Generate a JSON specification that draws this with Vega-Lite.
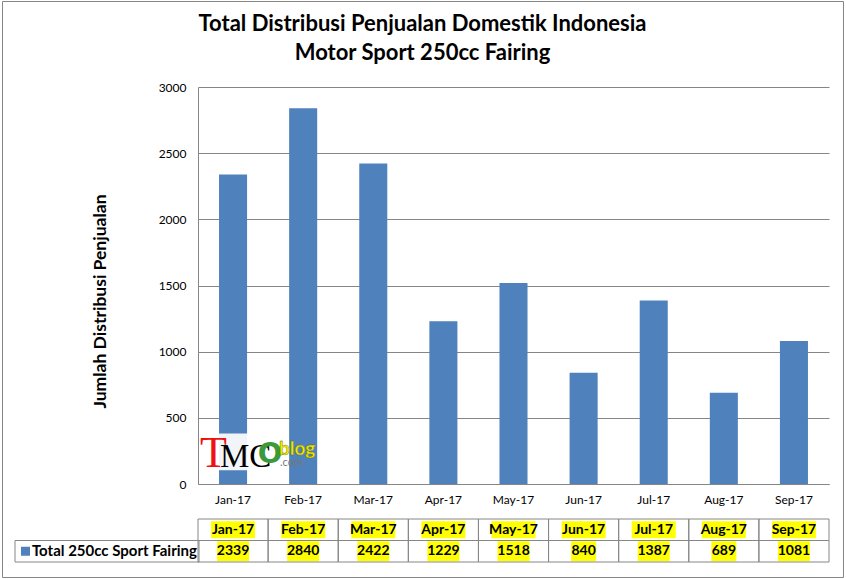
{
  "$schema": "https://vega.github.io/schema/vega-lite/v6.json",
  "autosize": {"type": "none"},
  "padding": {"left": 2, "top": 1, "right": 3, "bottom": 2},
  "width": 841,
  "height": 576,
  "background": "white",
  "config": {
    "font": "Lato",
    "view": {"stroke": "#868686", "strokeWidth": 1},
    "axis": {"labelFont": "Lato", "titleFont": "Lato", "labelColor": "black", "titleColor": "black"}
  },
  "title": {
    "text": ["Total Distribusi Penjualan Domestik Indonesia", "Motor Sport 250cc Fairing"],
    "font": "Lato", "fontSize": 22, "fontWeight": "bold", "color": "black",
    "lineHeight": 29, "anchor": "middle", "baseline": "alphabetic", "offset": -81
  },
  "datasets": {
    "sales": [
      {"month": "Jan-17", "value": 2339},
      {"month": "Feb-17", "value": 2840},
      {"month": "Mar-17", "value": 2422},
      {"month": "Apr-17", "value": 1229},
      {"month": "May-17", "value": 1518},
      {"month": "Jun-17", "value": 840},
      {"month": "Jul-17", "value": 1387},
      {"month": "Aug-17", "value": 689},
      {"month": "Sep-17", "value": 1081}
    ],
    "series": [{"series": "Total 250cc Sport Fairing"}],
    "logo": [{"part": "TMCblog"}]
  },
  "resolve": {"scale": {"x": "independent", "y": "independent"}},
  "layer": [
    {
      "data": {"name": "sales"},
      "mark": {"type": "bar", "color": "#4F81BD", "width": {"band": 0.4}},
      "encoding": {
        "x": {
          "field": "month", "type": "nominal",
          "scale": {"type": "band", "domain": ["Jan-17","Feb-17","Mar-17","Apr-17","May-17","Jun-17","Jul-17","Aug-17","Sep-17"], "range": [196, 827], "paddingInner": 0, "paddingOuter": 0},
          "axis": {"title": null, "offset": -93, "labelAngle": 0, "labelFontSize": 12, "labelPadding": 10, "ticks": false, "tickSize": 0, "domainColor": "#868686", "grid": false}
        },
        "y": {
          "field": "value", "type": "quantitative",
          "scale": {"domain": [0, 3000], "range": [483, 86], "nice": false},
          "axis": {
            "title": "Jumlah Distribusi Penjualan", "titleFontSize": 17.5, "titleFontWeight": "bold",
            "titleX": -98, "titleY": 300, "titleAlign": "center", "titleBaseline": "middle", "titleAngle": -90,
            "offset": -196, "values": [0, 500, 1000, 1500, 2000, 2500, 3000], "format": "d",
            "labelFontSize": 12, "labelPadding": 12, "ticks": false, "tickSize": 0,
            "domainColor": "#868686", "grid": true, "gridColor": "#868686", "gridOpacity": 1
          }
        }
      }
    },
    {
      "data": {"name": "logo"},
      "mark": {"type": "point", "shape": "square", "filled": true, "size": 1350, "color": "white", "opacity": 0.92},
      "encoding": {
        "x": {"datum": "Jan-17", "type": "nominal", "scale": {"type": "band", "domain": ["Jan-17","Feb-17","Mar-17","Apr-17","May-17","Jun-17","Jul-17","Aug-17","Sep-17"], "range": [196, 827], "paddingInner": 0, "paddingOuter": 0}, "axis": null},
        "y": {"datum": 242, "type": "quantitative", "scale": {"domain": [0, 3000], "range": [483, 86], "nice": false}, "axis": null}
      }
    },
    {
      "data": {"name": "logo"},
      "mark": {"type": "text", "text": "T", "font": "Liberation Serif", "fontSize": 44, "color": "#ee1111", "align": "left", "baseline": "alphabetic", "dx": 2, "dy": -17},
      "encoding": {
        "x": {"datum": "Jan-17", "type": "nominal", "bandPosition": 0, "scale": {"type": "band", "domain": ["Jan-17","Feb-17","Mar-17","Apr-17","May-17","Jun-17","Jul-17","Aug-17","Sep-17"], "range": [196, 827], "paddingInner": 0, "paddingOuter": 0}, "axis": null},
        "y": {"datum": 0, "type": "quantitative", "scale": {"domain": [0, 3000], "range": [483, 86], "nice": false}, "axis": null}
      }
    },
    {
      "data": {"name": "logo"},
      "mark": {"type": "text", "text": "MC", "font": "Liberation Serif", "fontSize": 33, "color": "black", "align": "left", "baseline": "alphabetic", "dx": 22, "dy": -17},
      "encoding": {
        "x": {"datum": "Jan-17", "type": "nominal", "bandPosition": 0, "scale": {"type": "band", "domain": ["Jan-17","Feb-17","Mar-17","Apr-17","May-17","Jun-17","Jul-17","Aug-17","Sep-17"], "range": [196, 827], "paddingInner": 0, "paddingOuter": 0}, "axis": null},
        "y": {"datum": 0, "type": "quantitative", "scale": {"domain": [0, 3000], "range": [483, 86], "nice": false}, "axis": null}
      }
    },
    {
      "data": {"name": "logo"},
      "mark": {"type": "text", "text": "O", "font": "DejaVu Sans", "fontWeight": "bold", "fontSize": 29, "color": "#3c9a3c", "align": "center", "baseline": "middle", "dx": 72, "dy": -30},
      "encoding": {
        "x": {"datum": "Jan-17", "type": "nominal", "bandPosition": 0, "scale": {"type": "band", "domain": ["Jan-17","Feb-17","Mar-17","Apr-17","May-17","Jun-17","Jul-17","Aug-17","Sep-17"], "range": [196, 827], "paddingInner": 0, "paddingOuter": 0}, "axis": null},
        "y": {"datum": 0, "type": "quantitative", "scale": {"domain": [0, 3000], "range": [483, 86], "nice": false}, "axis": null}
      }
    },
    {
      "data": {"name": "logo"},
      "mark": {"type": "text", "text": "blog", "font": "Lato", "fontSize": 19, "fontWeight": "bold", "color": "#f4ec00", "stroke": "#6b6b00", "strokeWidth": 0.4, "align": "left", "baseline": "alphabetic", "dx": 81, "dy": -29},
      "encoding": {
        "x": {"datum": "Jan-17", "type": "nominal", "bandPosition": 0, "scale": {"type": "band", "domain": ["Jan-17","Feb-17","Mar-17","Apr-17","May-17","Jun-17","Jul-17","Aug-17","Sep-17"], "range": [196, 827], "paddingInner": 0, "paddingOuter": 0}, "axis": null},
        "y": {"datum": 0, "type": "quantitative", "scale": {"domain": [0, 3000], "range": [483, 86], "nice": false}, "axis": null}
      }
    },
    {
      "data": {"name": "logo"},
      "mark": {"type": "text", "text": ".com", "font": "Lato", "fontSize": 11, "color": "#777777", "align": "left", "baseline": "alphabetic", "dx": 82, "dy": -18},
      "encoding": {
        "x": {"datum": "Jan-17", "type": "nominal", "bandPosition": 0, "scale": {"type": "band", "domain": ["Jan-17","Feb-17","Mar-17","Apr-17","May-17","Jun-17","Jul-17","Aug-17","Sep-17"], "range": [196, 827], "paddingInner": 0, "paddingOuter": 0}, "axis": null},
        "y": {"datum": 0, "type": "quantitative", "scale": {"domain": [0, 3000], "range": [483, 86], "nice": false}, "axis": null}
      }
    },
    {
      "data": {"name": "sales"},
      "mark": {"type": "rect", "fill": "yellow", "width": 44, "height": 17},
      "encoding": {
        "x": {"field": "month", "type": "nominal", "scale": {"type": "band", "domain": ["Jan-17","Feb-17","Mar-17","Apr-17","May-17","Jun-17","Jul-17","Aug-17","Sep-17"], "range": [196, 827], "paddingInner": 0, "paddingOuter": 0}, "axis": null},
        "y": {"datum": "header", "type": "nominal", "scale": {"type": "band", "domain": ["header", "value"], "range": [518, 561], "paddingInner": 0, "paddingOuter": 0}, "axis": null}
      }
    },
    {
      "data": {"name": "sales"},
      "transform": [{"filter": "datum.value >= 1000"}],
      "mark": {"type": "rect", "fill": "yellow", "width": 32, "height": 20},
      "encoding": {
        "x": {"field": "month", "type": "nominal", "scale": {"type": "band", "domain": ["Jan-17","Feb-17","Mar-17","Apr-17","May-17","Jun-17","Jul-17","Aug-17","Sep-17"], "range": [196, 827], "paddingInner": 0, "paddingOuter": 0}, "axis": null},
        "y": {"datum": "value", "type": "nominal", "scale": {"type": "band", "domain": ["header", "value"], "range": [518, 561], "paddingInner": 0, "paddingOuter": 0}, "axis": null}
      }
    },
    {
      "data": {"name": "sales"},
      "transform": [{"filter": "datum.value < 1000"}],
      "mark": {"type": "rect", "fill": "yellow", "width": 25, "height": 20},
      "encoding": {
        "x": {"field": "month", "type": "nominal", "scale": {"type": "band", "domain": ["Jan-17","Feb-17","Mar-17","Apr-17","May-17","Jun-17","Jul-17","Aug-17","Sep-17"], "range": [196, 827], "paddingInner": 0, "paddingOuter": 0}, "axis": null},
        "y": {"datum": "value", "type": "nominal", "scale": {"type": "band", "domain": ["header", "value"], "range": [518, 561], "paddingInner": 0, "paddingOuter": 0}, "axis": null}
      }
    },
    {
      "data": {"name": "sales"},
      "mark": {"type": "rect", "fillOpacity": 0, "stroke": "#868686", "strokeWidth": 1},
      "encoding": {
        "x": {"field": "month", "type": "nominal", "scale": {"type": "band", "domain": ["Jan-17","Feb-17","Mar-17","Apr-17","May-17","Jun-17","Jul-17","Aug-17","Sep-17"], "range": [196, 827], "paddingInner": 0, "paddingOuter": 0}, "axis": null},
        "y": {"datum": "header", "type": "nominal", "scale": {"type": "band", "domain": ["header", "value"], "range": [518, 561], "paddingInner": 0, "paddingOuter": 0}, "axis": null}
      }
    },
    {
      "data": {"name": "sales"},
      "mark": {"type": "rect", "fillOpacity": 0, "stroke": "#868686", "strokeWidth": 1},
      "encoding": {
        "x": {"field": "month", "type": "nominal", "scale": {"type": "band", "domain": ["Jan-17","Feb-17","Mar-17","Apr-17","May-17","Jun-17","Jul-17","Aug-17","Sep-17"], "range": [196, 827], "paddingInner": 0, "paddingOuter": 0}, "axis": null},
        "y": {"datum": "value", "type": "nominal", "scale": {"type": "band", "domain": ["header", "value"], "range": [518, 561], "paddingInner": 0, "paddingOuter": 0}, "axis": null}
      }
    },
    {
      "data": {"name": "sales"},
      "mark": {"type": "text", "font": "Lato", "fontSize": 14, "fontWeight": "bold", "color": "black", "baseline": "middle"},
      "encoding": {
        "x": {"field": "month", "type": "nominal", "scale": {"type": "band", "domain": ["Jan-17","Feb-17","Mar-17","Apr-17","May-17","Jun-17","Jul-17","Aug-17","Sep-17"], "range": [196, 827], "paddingInner": 0, "paddingOuter": 0}, "axis": null},
        "y": {"datum": "header", "type": "nominal", "scale": {"type": "band", "domain": ["header", "value"], "range": [518, 561], "paddingInner": 0, "paddingOuter": 0}, "axis": null},
        "text": {"field": "month"}
      }
    },
    {
      "data": {"name": "sales"},
      "mark": {"type": "text", "font": "Lato", "fontSize": 14, "fontWeight": "bold", "color": "black", "baseline": "middle"},
      "encoding": {
        "x": {"field": "month", "type": "nominal", "scale": {"type": "band", "domain": ["Jan-17","Feb-17","Mar-17","Apr-17","May-17","Jun-17","Jul-17","Aug-17","Sep-17"], "range": [196, 827], "paddingInner": 0, "paddingOuter": 0}, "axis": null},
        "y": {"datum": "value", "type": "nominal", "scale": {"type": "band", "domain": ["header", "value"], "range": [518, 561], "paddingInner": 0, "paddingOuter": 0}, "axis": null},
        "text": {"field": "value", "type": "quantitative", "format": "d"}
      }
    },
    {
      "data": {"name": "series"},
      "mark": {"type": "rect", "fillOpacity": 0, "stroke": "#868686", "strokeWidth": 1},
      "encoding": {
        "x": {"field": "series", "type": "nominal", "scale": {"type": "band", "range": [13, 197], "paddingInner": 0, "paddingOuter": 0}, "axis": null},
        "y": {"datum": "value", "type": "nominal", "scale": {"type": "band", "domain": ["header", "value"], "range": [518, 561], "paddingInner": 0, "paddingOuter": 0}, "axis": null}
      }
    },
    {
      "data": {"name": "series"},
      "mark": {"type": "point", "shape": "square", "filled": true, "size": 81, "color": "#4F81BD", "opacity": 1},
      "encoding": {
        "x": {"field": "series", "type": "nominal", "bandPosition": 0.057, "scale": {"type": "band", "range": [13, 197], "paddingInner": 0, "paddingOuter": 0}, "axis": null},
        "y": {"datum": "value", "type": "nominal", "scale": {"type": "band", "domain": ["header", "value"], "range": [518, 561], "paddingInner": 0, "paddingOuter": 0}, "axis": null}
      }
    },
    {
      "data": {"name": "series"},
      "mark": {"type": "text", "font": "Lato", "fontSize": 15, "fontWeight": "bold", "color": "black", "align": "left", "baseline": "middle"},
      "encoding": {
        "x": {"field": "series", "type": "nominal", "bandPosition": 0.092, "scale": {"type": "band", "range": [13, 197], "paddingInner": 0, "paddingOuter": 0}, "axis": null},
        "y": {"datum": "value", "type": "nominal", "scale": {"type": "band", "domain": ["header", "value"], "range": [518, 561], "paddingInner": 0, "paddingOuter": 0}, "axis": null},
        "text": {"field": "series"}
      }
    }
  ]
}
